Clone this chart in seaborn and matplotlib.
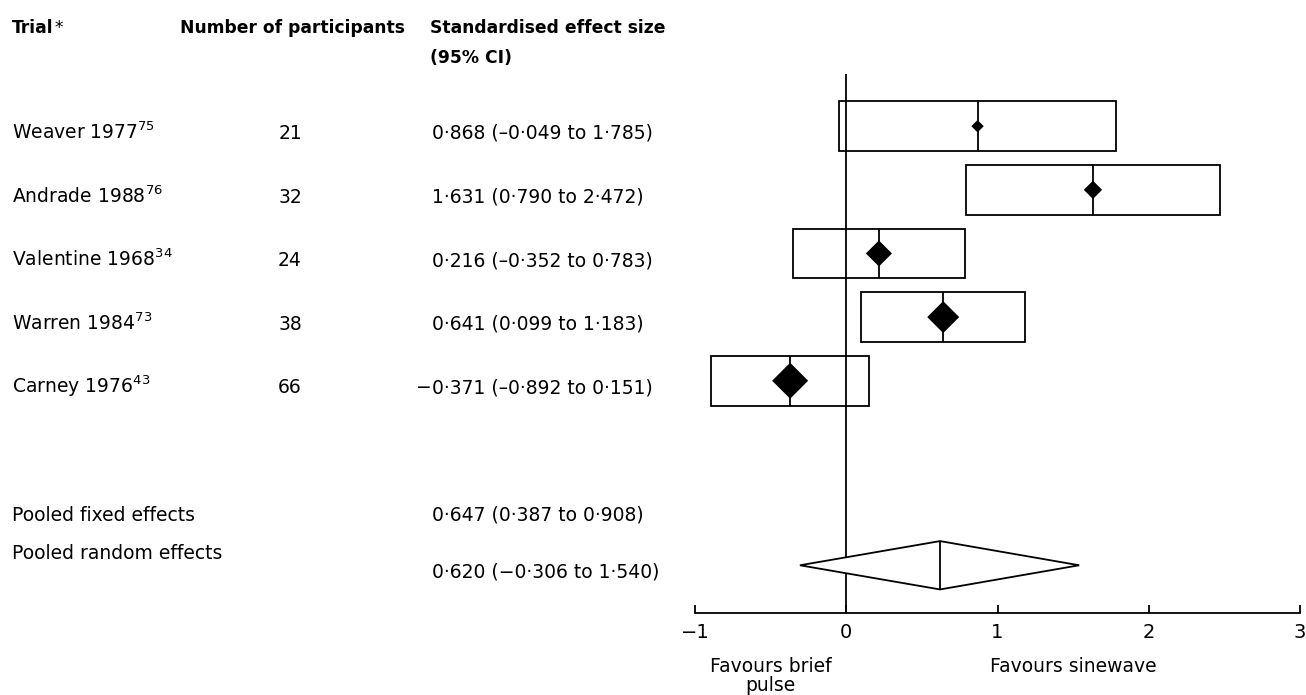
import matplotlib
matplotlib.use("Agg")
import matplotlib.pyplot as plt
import matplotlib.transforms as mtransforms
import seaborn as sns
import pandas as pd

# ---------------- data ----------------
trials = ["Weaver 1977", "Andrade 1988", "Valentine 1968", "Warren 1984", "Carney 1976"]
refs = ["75", "76", "34", "73", "43"]
participants = [21, 32, 24, 38, 66]
effect = [0.868, 1.631, 0.216, 0.641, -0.371]
ci_low = [-0.049, 0.790, -0.352, 0.099, -0.892]
ci_high = [1.785, 2.472, 0.783, 1.183, 0.151]
weight = [4.1, 9.4, 19.5, 29.5, 37.5]   # relative weight (marker size)
effect_labels = ["0·868 (–0·049 to 1·785)", "1·631 (0·790 to 2·472)",
                 "0·216 (–0·352 to 0·783)", "0·641 (0·099 to 1·183)",
                 "−0·371 (–0·892 to 0·151)"]

pooled_names = ["Pooled fixed effects", "Pooled random effects"]
pooled_labels = ["0·647 (0·387 to 0·908)", "0·620 (−0·306 to 1·540)"]
random_effect = 0.620
random_low = -0.306
random_high = 1.540

xticks = [-1, 0, 1, 2, 3]
favour_left = "Favours brief\npulse"
favour_right = "Favours sinewave"

# ---------------- style ----------------
sns.set_theme(style="white")
plt.rcParams["font.family"] = ["DejaVu Sans"]
plt.rcParams["mathtext.fontset"] = "dejavusans"
plt.rcParams["text.color"] = "black"
plt.rcParams["xtick.color"] = "black"
plt.rcParams["axes.labelcolor"] = "black"

W, H = 1306, 695
fig = plt.figure(figsize=(W / 100, H / 100), dpi=100)
ax = fig.add_axes([695 / W, 1 - 613 / H, (1300 - 695) / W, (613 - 74) / H])

rows = list(range(len(trials)))
fixed_row = 6.0
random_row = 6.9
box_half = 0.39

df = pd.DataFrame({"row": rows, "effect": effect, "low": ci_low, "high": ci_high,
                   "weight": weight})

# boxes (CI)
ax.barh(df["row"], df["high"] - df["low"], left=df["low"], height=2 * box_half,
        fill=False, edgecolor="black", linewidth=1.3, zorder=2)
# point estimate lines
ax.vlines(df["effect"], df["row"] - box_half, df["row"] + box_half,
          color="black", linewidth=1.3, zorder=2)
# diamonds
sns.scatterplot(data=df, x="effect", y="row", size="weight", sizes=(40, 336),
                size_norm=(min(weight), max(weight)), marker="D", color="black",
                edgecolor="black", linewidth=0, legend=False, ax=ax, zorder=3)

# pooled random diamond
dh = 0.38
ax.fill([random_low, random_effect, random_high, random_effect, random_low],
        [random_row, random_row - dh, random_row, random_row + dh, random_row],
        facecolor="white", edgecolor="black", linewidth=1.3, zorder=2)
ax.vlines([random_effect], random_row - dh, random_row + dh, color="black",
          linewidth=1.3, zorder=2)

# zero line
ax.axvline(0, color="black", linewidth=1.3, zorder=1)

ax.set_xlim(-1, 3)
ax.set_ylim(7.65, -0.82)
ax.set_xticks(xticks)
ax.set_xticklabels([f"{t}".replace("-", "−") for t in xticks], fontsize=14)
ax.set_yticks([])
ax.set_xlabel("")
ax.set_ylabel("")
for s in ["top", "left", "right"]:
    ax.spines[s].set_visible(False)
ax.spines["bottom"].set_color("black")
ax.spines["bottom"].set_linewidth(1.3)
ax.tick_params(axis="x", direction="in", length=6, width=1.3, color="black",
               labelcolor="black", pad=7, bottom=True)
ax.patch.set_alpha(0)

# favours labels
tr_fav = mtransforms.blended_transform_factory(ax.transData, fig.transFigure)
ax.text(-0.5, 1 - 657 / H, favour_left, transform=tr_fav, ha="center", va="top",
        fontsize=13.5, linespacing=1.0)
ax.text(1.5, 1 - 657 / H, favour_right, transform=tr_fav, ha="center", va="top",
        fontsize=13.5)

# ---------------- text columns ----------------
tr = mtransforms.blended_transform_factory(fig.transFigure, ax.transData)
x_name, x_num, x_val = 12 / W, 290 / W, 432 / W
fs = 13.5
for r, name, ref, n, lab in zip(rows, trials, refs, participants, effect_labels):
    yb = r + 0.2
    ax.text(x_name, yb, name + r"$^{\mathregular{" + ref + "}}$", transform=tr,
            ha="left", va="baseline", fontsize=fs)
    ax.text(x_num, yb, str(n), transform=tr, ha="center", va="baseline", fontsize=fs)
    if lab.startswith("−"):
        ax.text(x_val, yb, "−", transform=tr, ha="right", va="baseline", fontsize=fs)
        ax.text(x_val, yb, lab[1:], transform=tr, ha="left", va="baseline", fontsize=fs)
    else:
        ax.text(x_val, yb, lab, transform=tr, ha="left", va="baseline", fontsize=fs)

ax.text(x_name, fixed_row + 0.2, pooled_names[0], transform=tr, ha="left",
        va="baseline", fontsize=fs)
ax.text(x_val, fixed_row + 0.2, pooled_labels[0], transform=tr, ha="left",
        va="baseline", fontsize=fs)
ax.text(x_name, random_row - 0.1, pooled_names[1], transform=tr, ha="left",
        va="baseline", fontsize=fs)
ax.text(x_val, random_row + 0.19, pooled_labels[1], transform=tr, ha="left",
        va="baseline", fontsize=fs)

# ---------------- headers ----------------
hfs = 12.3
t_trial = fig.text(12 / W, 1 - 28 / H, "Trial", ha="left", va="center",
                   fontsize=hfs, fontweight="bold")
ax.annotate("*", xy=(1, 1), xycoords=t_trial, xytext=(1, 0), textcoords="offset points",
            ha="left", va="top", fontsize=hfs)
fig.text(180 / W, 1 - 28 / H, "Number of participants", ha="left", va="center",
         fontsize=hfs, fontweight="bold")
fig.text(430 / W, 1 - 28 / H, "Standardised effect size", ha="left", va="center",
         fontsize=hfs, fontweight="bold")
fig.text(430 / W, 1 - 58 / H, "(95% CI)", ha="left", va="center",
         fontsize=hfs, fontweight="bold")

fig.savefig("out.png", dpi=100, facecolor="white")
